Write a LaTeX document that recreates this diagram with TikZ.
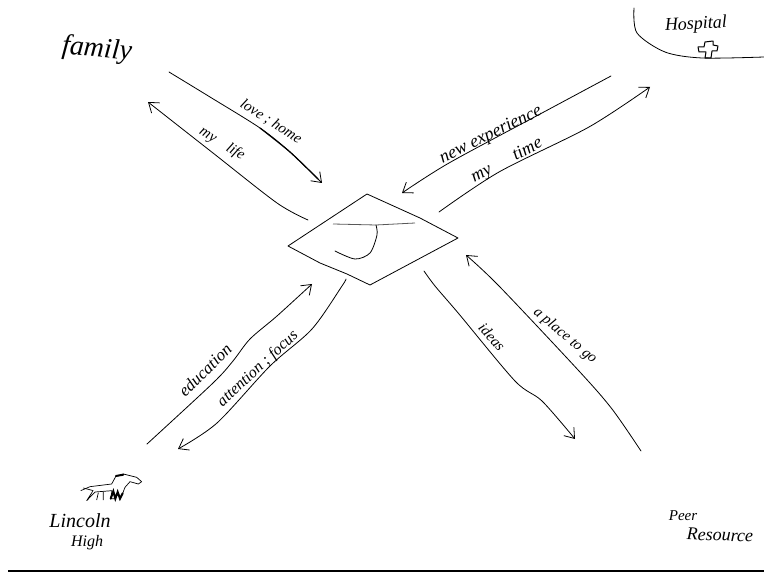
\documentclass[tikz,border=0pt]{standalone}
\usepackage{fontspec}
\setmainfont{Liberation Serif}
\usetikzlibrary{arrows.meta}
\tikzset{
  hand/.style={line width=0.8pt,line cap=round,line join=round},
  tip/.style={hand,-{Straight Barb[length=9pt,width=13pt,line width=0.8pt]}},
  lab/.style={inner sep=0pt,font=\itshape\fontsize{#1}{#1}\selectfont},
  lab/.default=15
}
\begin{document}
\begin{tikzpicture}[x=1pt,y=-1pt]
\useasboundingbox (0,0) rectangle (764,572);
\fill[white] (0,0) rectangle (764,572);
% centre diamond
\draw[hand] (288,246) -- (367,194) -- (420,218) -- (458,238) -- (370,285) -- (347,274) -- (320,263) -- cycle;
\draw[line width=0.8pt,black!65] (333,224) -- (376,225) -- (415,223);
\draw[hand] plot[smooth] coordinates {(376,225) (377,235) (370,253) (355,259) (335,251)};
% connector ends
\coordinate (fa1) at (169,72);  \coordinate (fa2) at (322,183);
\coordinate (fb1) at (308,220); \coordinate (fb2) at (148,102);
\coordinate (ha1) at (611,76);  \coordinate (ha2) at (402,193);
\coordinate (hb1) at (439,212); \coordinate (hb2) at (650,87);
\coordinate (pa1) at (641,451); \coordinate (pa2) at (466,255);
\coordinate (pb1) at (424,271); \coordinate (pb2) at (575,439);
\coordinate (la1) at (147,444); \coordinate (la2) at (312,284);
\coordinate (lb1) at (346,279); \coordinate (lb2) at (178,449);
% connectors
\draw[tip] plot[smooth,tension=.5] coordinates {(fa1) (210,97) (260,128) (290,152) (fa2)};
\draw[line width=1.2pt,line cap=round] plot[smooth,tension=.5] coordinates {(260,128) (290,152) (318,179)};
\draw[tip] plot[smooth,tension=.5] coordinates {(fb1) (277,203) (213,153) (fb2)};
\draw[tip] plot[smooth,tension=.5] coordinates {(ha1) (542,113) (449,163) (ha2)};
\draw[tip] plot[smooth,tension=.5] coordinates {(hb1) (499,172) (589,127) (hb2)};
\draw[tip] plot[smooth,tension=.5] coordinates {(pa1) (612,409) (579,371) (499,286) (pa2)};
\draw[tip] plot[smooth,tension=.5] coordinates {(pb1) (435,286) (459,314) (515,381) (542,401) (pb2)};
\draw[tip] plot[smooth,tension=.5] coordinates {(la1) (213,383) (233,361) (250,339) (277,316) (la2)};
\draw[tip] plot[smooth,tension=.5] coordinates {(lb1) (342,286) (312,329) (270,366) (217,423) (lb2)};
% connector labels
\node[lab=15,rotate=-33] (t1) at (271,122) {love ; home};
\node[lab=15,rotate=-32] (t2) at (222,144) {my\hspace{14pt}life};
\node[lab=18,rotate=26] (t3) at (491,135) {new experience};
\node[lab=18,rotate=28] (t4) at (507,161) {my\hspace{26pt}time};
\node[lab=15,rotate=-40] (t5) at (565,336) {a place to go};
\node[lab=15,rotate=-48] (t6) at (492,337) {ideas};
\node[lab=17,rotate=45] (t7) at (205,370) {education};
\node[lab=16,rotate=43] (t8) at (258,369) {attention ; focus};
% place labels
\node[lab=28,rotate=-5] (family) at (97,50) {family};
\node[lab=18,rotate=3] (hosp) at (696,25) {Hospital};
\node[lab=20] (linc) at (80,521) {Lincoln};
\node[lab=16] (high) at (87,543) {High};
\node[lab=15] (peer) at (683,516) {Peer};
\node[lab=18,rotate=-2] (res) at (720,535) {Resource};
% hospital boundary and cross
\draw[hand] plot[smooth,tension=.5] coordinates {(634,8) (637,33) (665,52) (702,58) (764,57)};
\draw[line width=1pt,line join=round] (704,47) -- (705,42) -- (713,41) -- (713,45) -- (718,46) -- (717,51) -- (712,51) -- (711,58) -- (705,58) -- (706,52) -- (699,52) -- (698,47) -- cycle;
% horse
\begin{scope}[shift={(40,460)},scale=1/3]
\draw[line width=0.7pt,line join=round] (122,92) -- (150,80) -- (215,72) -- (228,48) -- (250,42) -- (290,52) -- (305,65) -- (295,72) -- (270,65) -- (255,82) -- (248,100) -- (240,116) -- (233,96) -- (225,116) -- (212,116) -- (216,92) -- (165,96) -- (140,122) -- (158,94);
\draw[line width=0.7pt] (175,98) -- (170,120) (190,95) -- (190,120) (130,84) -- (160,92);
\draw[line width=2pt,line cap=round] (228,48) -- (250,44) (212,116) -- (220,94) -- (226,116) -- (233,96) -- (240,116) -- (248,100);
\end{scope}
% base rule
\coordinate (r1) at (8,571); \coordinate (r2) at (764,571);
\draw[line width=2.5pt] (r1) -- (r2);
\end{tikzpicture}
\end{document}
